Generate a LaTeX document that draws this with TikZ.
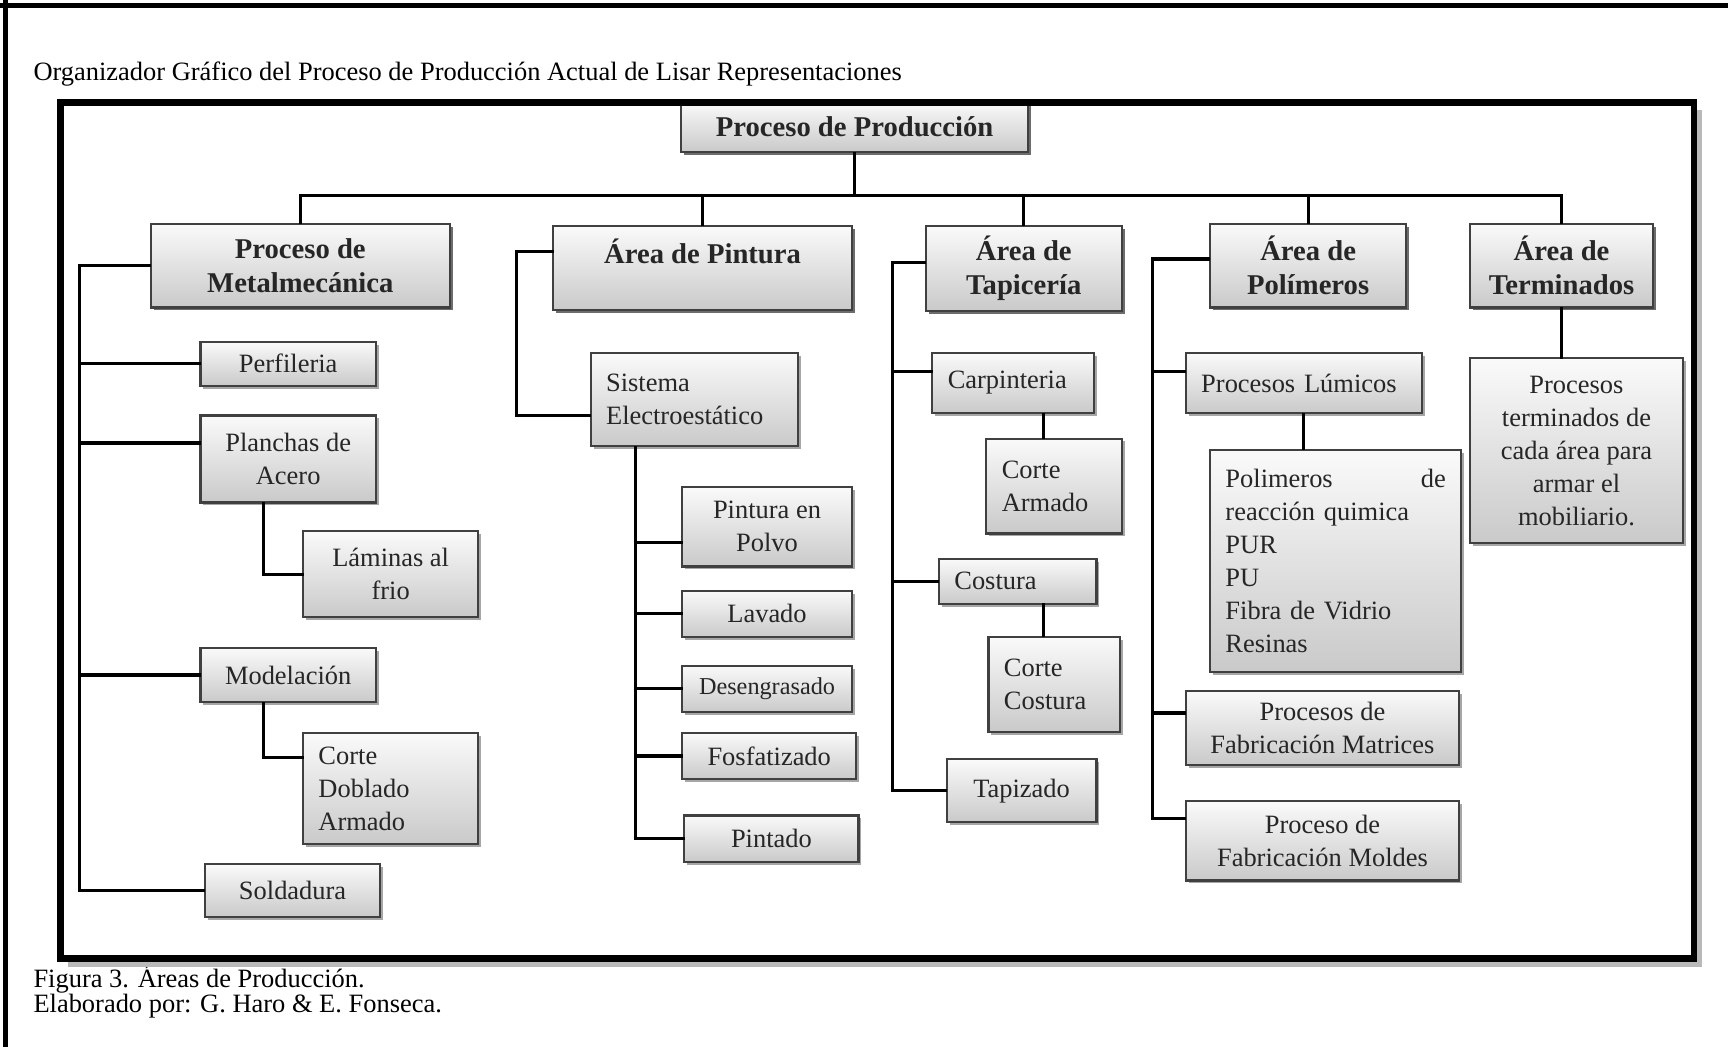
\documentclass[tikz,border=0pt]{standalone}
\usepackage{fontspec}
\setmainfont{Liberation Serif}
\usetikzlibrary{shadows,calc}
\newcommand\mkbox[7][]{%
  \pgfmathsetmacro\bxc{(#3+#5)/2}%
  \pgfmathsetmacro\byc{(#4+#6)/2}%
  \pgfmathsetmacro\bww{(#5-#3)*0.5}%
  \pgfmathsetmacro\bhh{(#6-#4)*0.5}%
  \pgfmathsetmacro\btw{(#5-#3)*0.5-14}%
  \node[box,minimum width=\bww pt,minimum height=\bhh pt,#1] (#2) at (\bxc,\byc) {#7};}
\begin{document}
\begin{tikzpicture}[x=0.5pt,y=-0.5pt,
  box/.style={draw=black!75, line width=1pt, top color=gray!4, bottom color=gray!42,
    drop shadow={shadow xshift=1.3pt, shadow yshift=-1.3pt, opacity=0.35, fill=black},
    inner sep=0pt, align=center, text=black!85, font=\fontsize{12}{15}\selectfont},
  hbox/.style={box, font=\bfseries\fontsize{13}{15.5}\selectfont},
  lbox/.style={align=left, text width=\btw pt},
  conn/.style={line width=1.4pt, black, line cap=rect},
  txt/.style={anchor=base west, inner sep=0pt, font=\fontsize{12}{14}\selectfont}]
\useasboundingbox (0,0) rectangle (1568,950);
\fill[white] (0,0) rectangle (1568,950);
% page border
\draw[line width=2pt] (0,5) -- (1568,5);
\draw[line width=2pt] (5,0) -- (5,950);

\node[txt] (title) at (30,73) {Organizador Gráfico del Proceso de Producción Actual de Lisar Representaciones};
\node[txt] (cap1) at (30,896) {Figura 3. Áreas de Producción.};
\node[txt] (cap2) at (30,919) {Elaborado por: G. Haro \& E. Fonseca.};

% boxes
\mkbox[hbox]{root}{618}{92}{933}{138}{Proceso de Producción}
\mkbox[hbox]{metal}{137}{203}{408}{279}{Proceso de\\Metalmecánica}
\mkbox[hbox]{pint}{502}{205}{773}{281}{Área de Pintura\\\mbox{}}
\mkbox[hbox]{tapi}{840}{205}{1018}{282}{Área de\\Tapicería}
\mkbox[hbox]{poli}{1098}{203}{1276}{279}{Área de\\Polímeros}
\mkbox[hbox]{term}{1334}{203}{1500}{279}{Área de\\Terminados}

\mkbox{perf}{182}{310}{341}{350}{Perfileria}
\mkbox{planch}{182}{377}{341}{456}{Planchas de\\Acero}
\mkbox{lam}{275}{482}{434}{560}{Láminas al\\frio}
\mkbox{model}{182}{588}{341}{637}{Modelación}
\mkbox[lbox]{cda}{275}{665}{434}{766}{Corte\\Doblado\\Armado}
\mkbox{sold}{186}{784}{345}{832}{Soldadura}

\mkbox[lbox]{sist}{536}{320}{724}{405}{Sistema\\Electroestático}
\mkbox{ppolvo}{619}{442}{773}{514}{Pintura en\\Polvo}
\mkbox{lav}{619}{536}{773}{578}{Lavado}
\mkbox[font=\fontsize{11}{14}\selectfont]{deseng}{619}{604}{773}{646}{Desengrasado}
\mkbox{fosf}{619}{665}{777}{707}{Fosfatizado}
\mkbox{pintado}{621}{740}{779}{782}{Pintado}

\mkbox[lbox]{carp}{846}{320}{993}{375}{Carpinteria}
\mkbox[lbox]{ca}{895}{398}{1018}{484}{Corte\\Armado}
\mkbox[lbox]{cost}{852}{507}{995}{548}{Costura}
\mkbox[lbox]{cc}{897}{578}{1016}{664}{Corte\\Costura}
\mkbox{tapiz}{859}{689}{995}{746}{Tapizado}

\mkbox[lbox]{lumi}{1076}{320}{1290}{375}{Procesos Lúmicos}
\mkbox[lbox]{plist}{1098}{408}{1326}{610}{Polimeros\hfill de\\reacción quimica\\PUR\\PU\\Fibra de Vidrio\\Resinas}
\mkbox{matr}{1076}{627}{1324}{694}{Procesos de\\Fabricación Matrices}
\mkbox{mold}{1076}{727}{1324}{799}{Proceso de\\Fabricación Moldes}

\mkbox{tproc}{1334}{325}{1527}{493}{Procesos\\terminados de\\cada área para\\armar el\\mobiliario.}

% connectors: top level
\coordinate (busy) at (772,177);
\draw[conn] (root.south) -- (root.south |- busy);
\draw[conn] (metal.north |- busy) -- (term.north |- busy);
\foreach \n in {metal,pint,tapi,poli,term} \draw[conn] (\n.north) -- (\n.north |- busy);

% metalmecanica
\coordinate (mtk) at (72,240);
\draw[conn] (metal.west) -| (mtk |- sold.west) -- (sold.west);
\foreach \n in {perf,model} \draw[conn] (\n.west) -- (\n.west -| mtk);
\draw[conn] ($(planch.north west)+(0,26)$) -- (mtk |- {$(planch.north west)+(0,26)$});
\draw[conn] (lam.west) -| ($(planch.south west)+(58,0)$);
\draw[conn] ($(cda.north west)+(0,23)$) -| ($(model.south west)+(58,0)$);

% pintura
\draw[conn] ($(pint.north west)+(0,24)$) -| ($(sist.south west)+(-66,-29)$) -- ($(sist.south west)+(0,-29)$);
\path ($(sist.south west)+(42,0)$) coordinate (stk);
\draw[conn] (stk) |- (pintado.west);
\foreach \n in {lav,deseng,fosf} \draw[conn] (\n.west) -- (\n.west -| stk);
\draw[conn] ($(ppolvo.south west)+(0,-23)$) -- (stk |- {$(ppolvo.south west)+(0,-23)$});

% tapiceria
\coordinate (ttk) at (810,238);
\draw[conn] (tapi.west |- ttk) -- (ttk) |- (tapiz.west);
\draw[conn] ($(carp.north west)+(0,18)$) -- (ttk |- {$(carp.north west)+(0,18)$});
\draw[conn] (cost.west) -- (cost.west -| ttk);
\path ($(ca.north west)+(53,0)$) coordinate (ca1);
\draw[conn] (ca1) -- (ca1 |- carp.south);
\path ($(cc.north west)+(51,0)$) coordinate (cc1);
\draw[conn] (cc1) -- (cc1 |- cost.south);

% polimeros
\coordinate (ytk) at (1046,235);
\draw[conn] (poli.west |- ytk) -- (ytk) |- ($(mold.north west)+(0,17)$);
\draw[conn] ($(lumi.north west)+(0,18)$) -- (ytk |- {$(lumi.north west)+(0,18)$});
\draw[conn] ($(matr.north west)+(0,21)$) -- (ytk |- {$(matr.north west)+(0,21)$});
\draw[conn] (lumi.south) -- (lumi.south |- plist.north);

% terminados
\draw[conn] (term.south) -- (term.south |- tproc.north);

% frame with shadow
\draw[gray!55, line width=3pt] (1541,100) -- (1541,874) -- (62,874);
\draw[line width=3pt] (55,93) rectangle (1537,870);
\end{tikzpicture}
\end{document}
